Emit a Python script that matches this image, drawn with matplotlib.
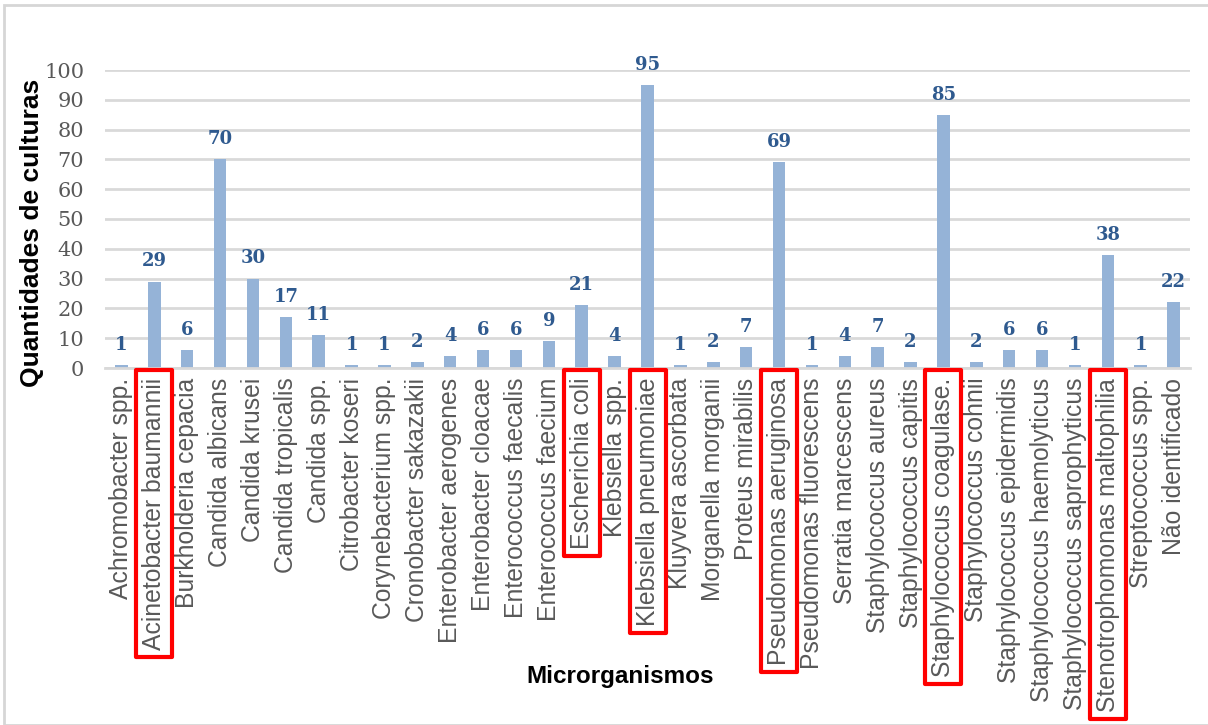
import matplotlib
matplotlib.use("Agg")
import matplotlib.pyplot as plt
from matplotlib.patches import Rectangle
import numpy as np

categories = [
    "Achromobacter spp.", "Acinetobacter baumannii", "Burkholderia cepacia",
    "Candida albicans", "Candida krusei", "Candida tropicalis", "Candida spp.",
    "Citrobacter koseri", "Corynebacterium spp.", "Cronobacter sakazakii",
    "Enterobacter aerogenes", "Enterobacter cloacae", "Enterococcus faecalis",
    "Enterococcus faecium", "Escherichia coli", "Klebsiella spp.",
    "Klebsiella pneumoniae", "Kluyvera ascorbata", "Morganella morganii",
    "Proteus mirabilis", "Pseudomonas aeruginosa", "Pseudomonas fluorescens",
    "Serratia marcescens", "Staphylococcus aureus", "Staphylococcus capitis",
    "Staphylococcus coagulase.", "Staphylococcus cohnii",
    "Staphylococcus epidermidis", "Staphylococcus haemolyticus",
    "Staphylococcus saprophyticus", "Stenotrophomonas maltophilia",
    "Streptococcus spp.", "Não identificado",
]
counts = [1, 29, 6, 70, 30, 17, 11, 1, 1, 2, 4, 6, 6, 9, 21, 4, 95, 1, 2, 7,
          69, 1, 4, 7, 2, 85, 2, 6, 6, 1, 38, 1, 22]
highlighted = [
    "Acinetobacter baumannii", "Escherichia coli", "Klebsiella pneumoniae",
    "Pseudomonas aeruginosa", "Staphylococcus coagulase.",
    "Stenotrophomonas maltophilia",
]
y_ticks = list(range(0, 101, 10))

W, H = 1208, 725
fig = plt.figure(figsize=(W / 100, H / 100), dpi=100)
ax = fig.add_axes([105 / W, 1 - 368 / H, (1190 - 105) / W, (368 - 70) / H])

x = np.arange(len(categories))
ax.bar(x, counts, width=0.38, color="#95B3D7", zorder=2)

for xi, v in zip(x, counts):
    ax.annotate(str(v), (xi, v), xytext=(0, 8), textcoords="offset points",
                ha="center", va="bottom", fontsize=13, fontweight="bold",
                family="DejaVu Serif", color="#2F5A8F")

ax.set_xlim(-0.5, len(categories) - 0.5)
ax.set_ylim(0, 100)
ax.set_yticks(y_ticks)
ax.set_yticklabels([str(t) for t in y_ticks], family="DejaVu Serif",
                   fontsize=15, color="#595959")
ax.set_xticks(x)
ax.set_xticklabels(categories, rotation=90, family="Liberation Sans",
                   fontsize=17.8, color="#595959")
ax.tick_params(axis="both", length=0)
ax.tick_params(axis="x", pad=7)
ax.tick_params(axis="y", pad=15)

ax.grid(axis="y", color="#D9D9D9", linewidth=2, zorder=0)
for side in ("top", "right", "left"):
    ax.spines[side].set_visible(False)
ax.spines["bottom"].set_color("#D9D9D9")
ax.spines["bottom"].set_linewidth(2)

ax.set_ylabel("Quantidades de culturas", family="Liberation Sans",
              fontsize=19, fontweight="bold", color="black", labelpad=0)
ax.yaxis.label.set_y(0.455)
fig.text(620 / W, 1 - 677 / H, "Microrganismos", family="Liberation Sans",
         fontsize=17.5, fontweight="bold", ha="center", va="center")

# outer frame of the chart
fig.patches.append(Rectangle((4 / W, 0), 1.2, 1 - 5 / H,
                             transform=fig.transFigure, fill=False,
                             edgecolor="#D6D6D6", linewidth=2))

# red frames around the highlighted tick labels
fig.canvas.draw()
renderer = fig.canvas.get_renderer()
for lbl in ax.get_xticklabels():
    if lbl.get_text() in highlighted:
        bb = lbl.get_window_extent(renderer)
        x0, x1 = bb.x0 - 6, bb.x1 + 6
        y0, y1 = bb.y0 - 7, bb.y1 + 8
        fig.patches.append(Rectangle((x0 / W, y0 / H), (x1 - x0) / W,
                                     (y1 - y0) / H,
                                     transform=fig.transFigure, fill=False,
                                     edgecolor="#FF0000", linewidth=3,
                                     joinstyle="round"))

fig.savefig("out.png", dpi=100)
